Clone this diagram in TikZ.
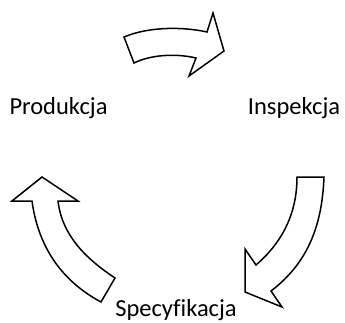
\documentclass[tikz,border=0pt]{standalone}
\usepackage{fontspec}
\setmainfont{Carlito}[Ligatures=NoCommon]
\begin{document}
\begin{tikzpicture}[x=1pt, y=-1pt,
    phase/.style={anchor=base, inner sep=0pt, font=\fontsize{24.5}{29}\selectfont},
    blockarrow/.style={draw, line width=1.5pt, line join=miter, fill=white}]
    \useasboundingbox (0,0) rectangle (345,322);
    \node (prod) [phase] at (58.5,114) {Produkcja};
    \node (insp) [phase] at (294,114) {Inspekcja};
    \node (spec) [phase] at (176,316) {Specyfikacja};

    % top arrow
    \draw[blockarrow] (124,37) .. controls (150,26) and (185,27) .. (207,32)
        -- (213,13) -- (224,51) -- (189,76) -- (196,58)
        .. controls (175,53) and (150,55) .. (134,63) -- cycle;
    % right arrow
    \draw[blockarrow] (297,177) -- (324,177)
        .. controls (322,230) and (305,265) .. (271,291)
        -- (282,307) -- (245,292) -- (245,249) -- (256,265)
        .. controls (285,240) and (297,210) .. (297,177) -- cycle;
    % left arrow
    \draw[blockarrow] (42,177) -- (12,201) -- (32,201)
        .. controls (38,245) and (60,280) .. (101,302)
        -- (115,278)
        .. controls (85,258) and (62,235) .. (58,201)
        -- (78,201) -- cycle;
\end{tikzpicture}
\end{document}
